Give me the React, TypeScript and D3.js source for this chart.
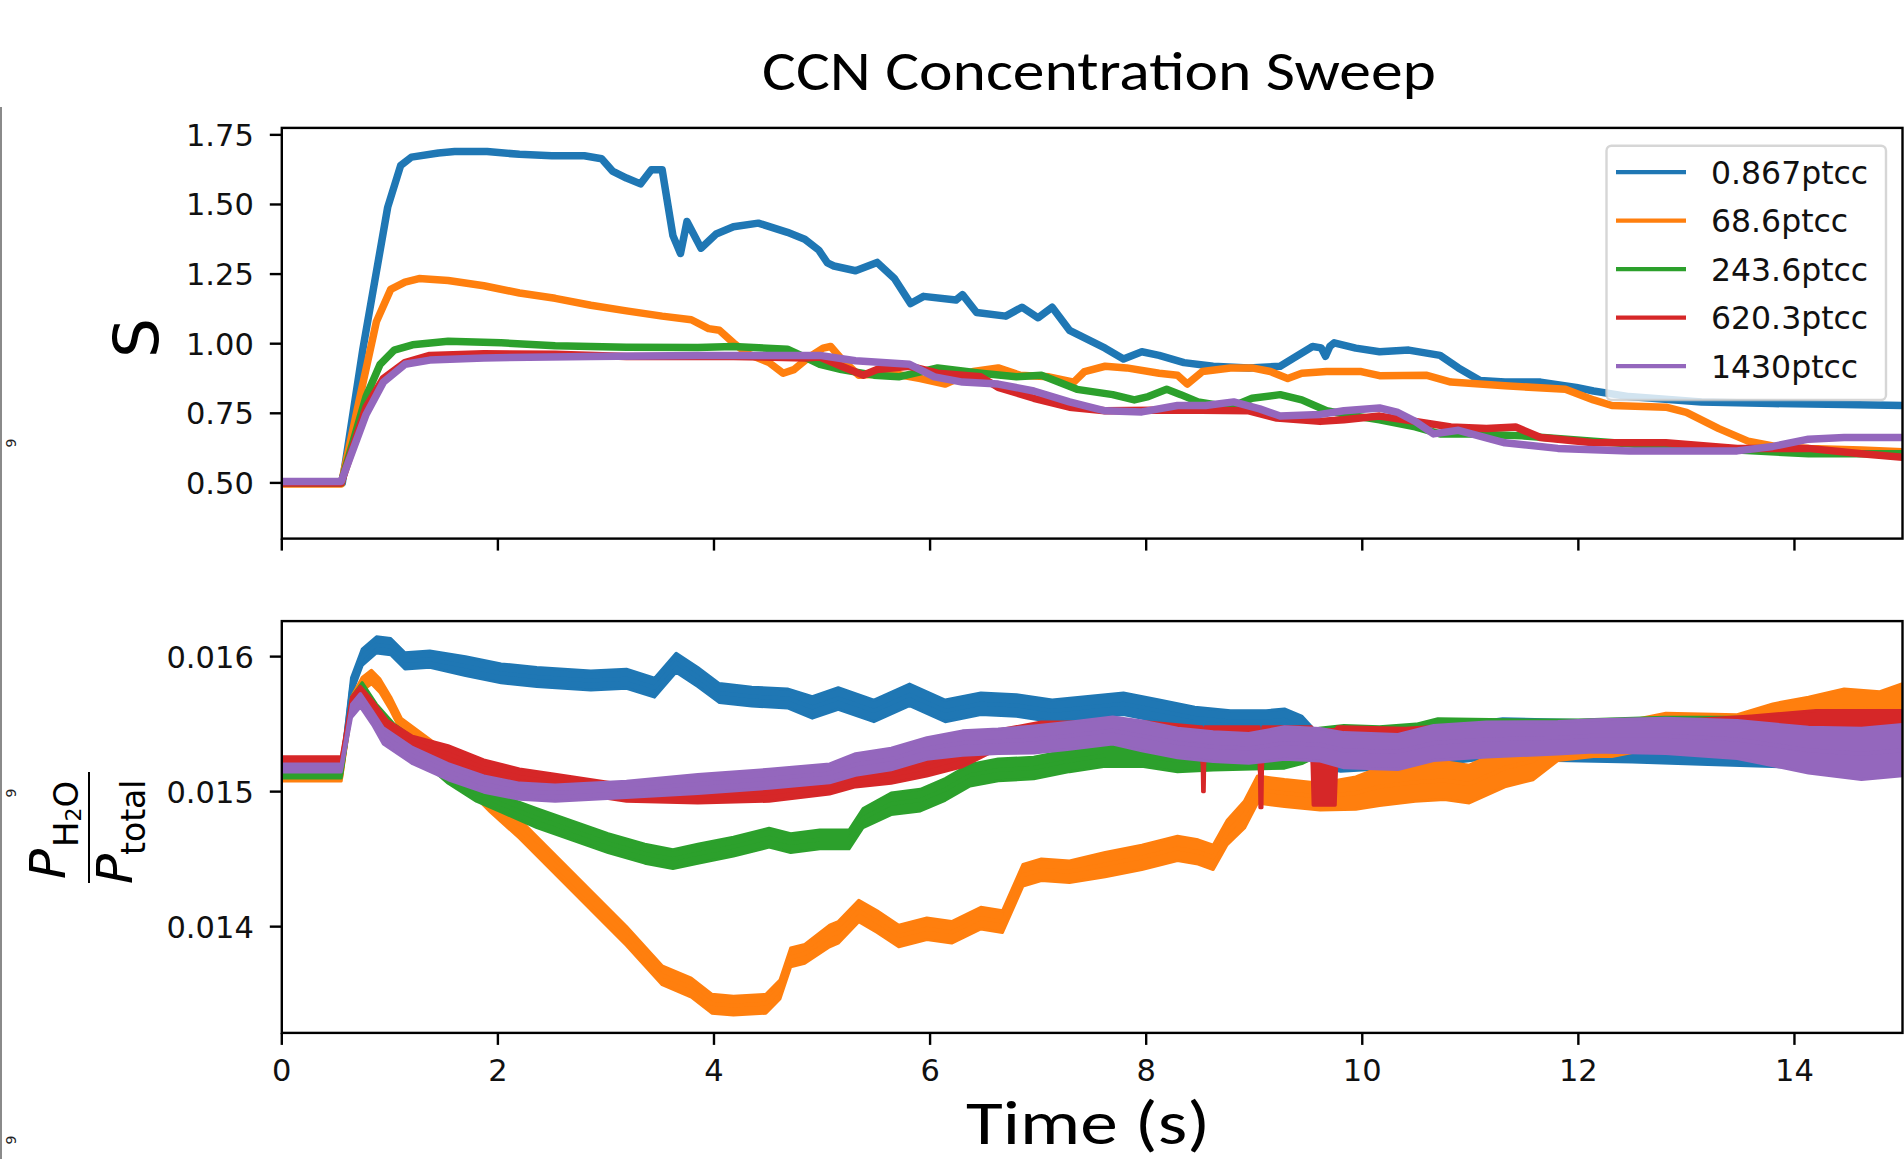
import React from "react";
import * as d3 from "d3";

// ---------- data ----------
const SERIES_NAMES = ["0.867ptcc", "68.6ptcc", "243.6ptcc", "620.3ptcc", "1430ptcc"];
const SERIES_COLORS = ["#1f77b4", "#ff7f0e", "#2ca02c", "#d62728", "#9467bd"];

const X_TICKS = [0, 2, 4, 6, 8, 10, 12, 14];
const TOP_TICKS = [0.5, 0.75, 1.0, 1.25, 1.5, 1.75];
const TOP_TICK_LABELS = ["0.50", "0.75", "1.00", "1.25", "1.50", "1.75"];
const BOT_TICKS = [0.014, 0.015, 0.016];
const BOT_TICK_LABELS = ["0.014", "0.015", "0.016"];

// Top panel: S vs time [t, S]
const blueS: [number, number][] = [[0,0.5],[0.56,0.5],[0.75,0.98],[0.98,1.49],[1.1,1.64],[1.2,1.67],[1.45,1.685],[1.6,1.69],[1.9,1.69],[2.2,1.68],[2.5,1.675],[2.8,1.675],[2.96,1.664],[3.06,1.62],[3.19,1.595],[3.32,1.574],[3.42,1.625],[3.52,1.625],[3.62,1.388],[3.69,1.324],[3.75,1.439],[3.88,1.343],[4.02,1.394],[4.18,1.42],[4.41,1.433],[4.68,1.4],[4.84,1.375],[4.97,1.336],[5.05,1.29],[5.11,1.279],[5.31,1.262],[5.51,1.292],[5.67,1.234],[5.82,1.144],[5.94,1.17],[6.24,1.157],[6.3,1.176],[6.43,1.112],[6.7,1.099],[6.85,1.131],[7.0,1.093],[7.13,1.131],[7.29,1.048],[7.49,1.009],[7.62,0.984],[7.79,0.945],[7.96,0.971],[8.12,0.958],[8.35,0.932],[8.62,0.919],[8.95,0.913],[9.24,0.919],[9.38,0.952],[9.54,0.99],[9.62,0.985],[9.66,0.955],[9.7,0.99],[9.74,1.003],[9.94,0.984],[10.16,0.971],[10.43,0.977],[10.72,0.958],[10.89,0.913],[11.09,0.868],[11.32,0.862],[11.65,0.862],[11.98,0.843],[12.14,0.83],[12.47,0.81],[13.14,0.791],[13.8,0.785],[14.46,0.782],[15.0,0.778]];
const orangeS: [number, number][] = [[0,0.496],[0.55,0.496],[0.71,0.785],[0.876,1.08],[1.008,1.195],[1.14,1.221],[1.27,1.234],[1.54,1.227],[1.87,1.208],[2.2,1.182],[2.53,1.163],[2.86,1.138],[3.19,1.118],[3.52,1.099],[3.79,1.086],[3.95,1.054],[4.05,1.048],[4.18,1.003],[4.31,0.964],[4.51,0.932],[4.64,0.894],[4.74,0.907],[4.88,0.952],[5.01,0.984],[5.08,0.99],[5.18,0.945],[5.34,0.887],[5.64,0.894],[5.91,0.875],[6.14,0.855],[6.4,0.9],[6.63,0.913],[6.83,0.887],[7.1,0.881],[7.33,0.862],[7.43,0.9],[7.62,0.919],[7.82,0.913],[8.12,0.894],[8.29,0.887],[8.38,0.855],[8.52,0.9],[8.78,0.913],[8.98,0.913],[9.15,0.9],[9.31,0.875],[9.44,0.894],[9.67,0.9],[9.99,0.9],[10.16,0.885],[10.59,0.887],[10.82,0.862],[11.32,0.849],[11.88,0.836],[12.14,0.798],[12.31,0.778],[12.81,0.772],[13.0,0.753],[13.3,0.695],[13.57,0.65],[13.8,0.633],[14.13,0.624],[14.62,0.618],[15.0,0.612]];
const greenS: [number, number][] = [[0,0.5],[0.55,0.5],[0.78,0.81],[0.91,0.926],[1.04,0.977],[1.21,0.996],[1.54,1.009],[2.03,1.003],[2.53,0.993],[3.19,0.987],[3.85,0.986],[4.18,0.99],[4.68,0.98],[4.84,0.952],[4.98,0.926],[5.18,0.907],[5.48,0.887],[5.71,0.881],[6.07,0.913],[6.47,0.894],[6.8,0.881],[7.03,0.887],[7.36,0.836],[7.69,0.817],[7.89,0.798],[8.02,0.81],[8.19,0.836],[8.32,0.817],[8.48,0.791],[8.78,0.772],[8.98,0.804],[9.24,0.817],[9.44,0.798],[9.67,0.759],[9.94,0.74],[10.16,0.727],[10.49,0.701],[10.72,0.676],[10.99,0.676],[11.48,0.669],[12.14,0.65],[12.81,0.631],[13.47,0.618],[14.13,0.605],[15.0,0.605]];
const redS: [number, number][] = [[0,0.5],[0.55,0.5],[0.78,0.772],[0.94,0.875],[1.14,0.932],[1.37,0.958],[1.87,0.964],[2.53,0.962],[3.19,0.954],[4.18,0.954],[4.84,0.949],[4.98,0.952],[5.18,0.919],[5.38,0.887],[5.51,0.907],[5.81,0.919],[6.07,0.894],[6.47,0.881],[6.63,0.843],[6.96,0.804],[7.29,0.772],[7.62,0.759],[8.29,0.762],[8.95,0.759],[9.21,0.733],[9.61,0.721],[9.83,0.727],[10.16,0.74],[10.49,0.721],[10.82,0.701],[11.15,0.695],[11.42,0.701],[11.65,0.663],[12.14,0.644],[12.81,0.644],[13.47,0.624],[14.13,0.624],[14.62,0.605],[15.0,0.592]];
const purpleS: [number, number][] = [[0,0.505],[0.55,0.505],[0.78,0.746],[0.94,0.862],[1.14,0.926],[1.37,0.941],[1.87,0.949],[2.86,0.954],[3.85,0.958],[4.98,0.958],[5.31,0.939],[5.81,0.926],[6.04,0.881],[6.3,0.862],[6.63,0.855],[6.96,0.83],[7.29,0.791],[7.62,0.759],[7.96,0.755],[8.29,0.778],[8.55,0.778],[8.81,0.791],[9.05,0.766],[9.24,0.74],[9.61,0.746],[9.83,0.759],[10.16,0.769],[10.33,0.753],[10.49,0.721],[10.66,0.676],[10.89,0.689],[11.32,0.644],[11.81,0.624],[12.47,0.615],[13.47,0.615],[13.8,0.631],[14.13,0.657],[14.46,0.663],[15.0,0.663]];

// Bottom panel: P_H2O/P_total vs time [t, value, half-width of the noise band]
const blueP: [number, number, number][] = [[0,0.01515,0.00003],[0.55,0.01515,0.00003],[0.645,0.015783,0.00006],[0.744,0.015995,0.00006],[0.876,0.016087,0.00006],[1.008,0.016074,0.00006],[1.14,0.015968,0.00006],[1.37,0.015981,0.00006],[1.7,0.015929,0.00007],[2.03,0.015876,0.00007],[2.36,0.015849,0.00007],[2.86,0.015823,0.00007],[3.19,0.015836,0.00007],[3.45,0.01577,0.00007],[3.65,0.015955,0.00007],[3.85,0.015849,0.00007],[4.05,0.01573,0.00007],[4.35,0.015704,0.00007],[4.68,0.01569,0.00007],[4.91,0.015624,0.00008],[5.15,0.01569,0.00008],[5.48,0.015598,0.00008],[5.81,0.015717,0.00008],[6.14,0.015598,0.00008],[6.47,0.015651,0.00008],[6.8,0.015638,0.00008],[7.13,0.015598,0.00008],[7.46,0.015624,0.00008],[7.79,0.015651,0.00008],[8.12,0.015598,0.00008],[8.45,0.015545,0.00008],[8.78,0.015519,0.00008],[9.11,0.015519,0.00008],[9.28,0.015532,0.00008],[9.44,0.01547,0.00009],[9.6,0.0153,0.00012],[9.8,0.01528,0.00013],[10.2,0.0153,0.00013],[10.8,0.01535,0.00014],[11.3,0.0154,0.00014],[11.8,0.01538,0.00015],[12.5,0.01537,0.00015],[13.2,0.01535,0.00015],[14.0,0.01533,0.00015],[15.0,0.0153,0.00016]];
const orangeP: [number, number, number][] = [[0,0.015108,0.00003],[0.55,0.015108,0.00003],[0.645,0.015651,0.00005],[0.744,0.015796,0.00005],[0.83,0.015849,0.00005],[0.91,0.015783,0.00005],[1.008,0.015651,0.00005],[1.107,0.015492,0.00005],[1.27,0.015386,0.00006],[1.47,0.015267,0.00006],[1.7,0.015095,0.00006],[1.93,0.01491,0.00006],[2.2,0.014725,0.00007],[2.53,0.01446,0.00007],[2.86,0.014196,0.00007],[3.19,0.013931,0.00007],[3.52,0.01364,0.00007],[3.79,0.013548,0.00007],[3.98,0.013429,0.00007],[4.18,0.013415,0.00007],[4.48,0.013429,0.00007],[4.61,0.013534,0.00007],[4.71,0.013772,0.00007],[4.84,0.013799,0.00007],[5.07,0.013931,0.00008],[5.15,0.013958,0.00008],[5.34,0.014116,0.00008],[5.51,0.014037,0.00008],[5.71,0.013931,0.00008],[5.97,0.013984,0.00008],[6.2,0.013958,0.00008],[6.47,0.014063,0.00008],[6.67,0.014037,0.00008],[6.86,0.014381,0.00008],[7.03,0.014421,0.00008],[7.29,0.014407,0.00008],[7.62,0.01446,0.00009],[7.96,0.014513,0.00009],[8.29,0.014579,0.00009],[8.48,0.014553,0.00009],[8.62,0.014513,0.00009],[8.75,0.014698,0.00009],[8.91,0.014831,0.0001],[9.03,0.015016,0.0001],[9.28,0.014989,0.0001],[9.61,0.014963,0.0001],[9.94,0.014989,0.00012],[10.16,0.015037,0.00014],[10.49,0.015069,0.00014],[10.76,0.015082,0.00014],[10.99,0.015056,0.00014],[11.32,0.015175,0.00014],[11.58,0.015228,0.00014],[11.81,0.01536,0.00013],[12.14,0.01538,0.00012],[12.31,0.01538,0.00012],[12.81,0.01546,0.00012],[13.47,0.01545,0.00012],[13.8,0.01553,0.00012],[14.13,0.01557,0.00013],[14.46,0.01563,0.00013],[14.79,0.0156,0.00014],[15.0,0.01566,0.00014]];
const greenP: [number, number, number][] = [[0,0.01513,0.00003],[0.55,0.01513,0.00003],[0.645,0.01565,0.00005],[0.744,0.015757,0.00005],[0.876,0.015598,0.00005],[1.04,0.015439,0.00006],[1.27,0.015307,0.00006],[1.54,0.015122,0.00006],[1.8,0.014989,0.00006],[2.03,0.01491,0.00006],[2.36,0.014804,0.00007],[2.69,0.014712,0.00007],[3.02,0.014619,0.00007],[3.36,0.01454,0.00007],[3.62,0.0145,0.00007],[3.85,0.01454,0.00007],[4.18,0.014593,0.00007],[4.51,0.014659,0.00007],[4.71,0.014619,0.00007],[4.98,0.014646,0.00007],[5.25,0.014646,0.00007],[5.38,0.014804,0.00007],[5.64,0.01491,0.00008],[5.91,0.014937,0.00008],[6.14,0.015016,0.00008],[6.37,0.015122,0.00008],[6.63,0.015161,0.00008],[6.96,0.015175,0.00008],[7.29,0.015228,0.00008],[7.62,0.015267,0.00008],[7.96,0.015267,0.00008],[8.29,0.015228,0.00008],[8.62,0.01524,0.00008],[9.28,0.015254,0.00008],[9.45,0.0153,0.00009],[9.6,0.01537,0.0001],[9.83,0.01539,0.0001],[10.16,0.01538,0.0001],[10.5,0.0154,0.0001],[10.7,0.01544,0.0001],[11.5,0.01543,0.0001],[12.0,0.01543,0.0001],[12.8,0.01545,0.0001],[13.5,0.01545,0.0001],[14.5,0.01543,0.0001],[15.0,0.01543,0.0001]];
const redP: [number, number, number][] = [[0,0.015228,0.00003],[0.55,0.015228,0.00003],[0.645,0.015651,0.00005],[0.727,0.01573,0.00005],[0.84,0.015624,0.00005],[0.975,0.015479,0.00005],[1.21,0.01536,0.00005],[1.54,0.01528,0.00006],[1.87,0.015175,0.00006],[2.2,0.015108,0.00006],[2.53,0.015069,0.00006],[3.19,0.014989,0.00006],[3.85,0.014976,0.00006],[4.51,0.014989,0.00006],[5.07,0.015042,0.00006],[5.31,0.015095,0.00006],[5.64,0.015122,0.00006],[5.97,0.015175,0.00006],[6.3,0.015254,0.00007],[6.63,0.015386,0.00007],[7.03,0.015445,0.00007],[7.29,0.015445,0.00007],[7.96,0.01545,0.00007],[8.5,0.01541,0.00007],[8.515,0.01541,0.00007],[8.522,0.01521,0.00021],[8.538,0.01521,0.00021],[8.545,0.01541,0.00007],[9.03,0.01541,0.00007],[9.045,0.01541,0.00007],[9.052,0.01515,0.00027],[9.072,0.01515,0.00027],[9.08,0.01541,0.00007],[9.5,0.01541,0.00007],[9.53,0.01541,0.00007],[9.545,0.01518,0.00028],[9.75,0.01518,0.00028],[9.77,0.01541,0.00007],[9.8,0.01541,0.00007],[10.4,0.0154,0.00007],[11.0,0.01542,0.00008],[12.0,0.01543,0.00008],[13.0,0.01544,0.00009],[13.6,0.01546,0.0001],[14.2,0.01548,0.00012],[15.0,0.01548,0.00012]];
const purpleP: [number, number, number][] = [[0,0.015175,0.00003],[0.55,0.015175,0.00003],[0.645,0.015598,0.00005],[0.727,0.015677,0.00005],[0.84,0.015545,0.00005],[0.94,0.015413,0.00006],[1.21,0.015267,0.00006],[1.54,0.015148,0.00006],[1.87,0.015056,0.00006],[2.2,0.015003,0.00006],[2.53,0.014989,0.00006],[3.19,0.015016,0.00006],[3.85,0.015056,0.00007],[4.51,0.015095,0.00007],[5.07,0.015135,0.00007],[5.31,0.015201,0.00008],[5.64,0.015241,0.00008],[5.97,0.01532,0.00008],[6.3,0.01536,0.00009],[6.63,0.015373,0.00009],[6.96,0.015386,0.0001],[7.29,0.015413,0.0001],[7.69,0.015452,0.0001],[7.96,0.015413,0.00011],[8.29,0.01536,0.00011],[8.62,0.015333,0.00011],[8.95,0.01532,0.00011],[9.28,0.01536,0.00012],[9.61,0.015347,0.00012],[9.83,0.015307,0.00013],[10.33,0.015294,0.00013],[10.66,0.01536,0.00013],[11.15,0.015386,0.00013],[11.81,0.015399,0.00012],[12.14,0.015413,0.00012],[12.81,0.015413,0.00013],[13.47,0.015386,0.00014],[14.13,0.015307,0.00017],[14.62,0.01528,0.00019],[15.0,0.015307,0.00019]];

const TOP_DATA = [blueS, orangeS, greenS, redS, purpleS];
const BOT_DATA = [blueP, orangeP, greenP, redP, purpleP];

// ---------- layout ----------
const W = 1904;
const H = 1159;
const AX_L = 281.8;
const AX_R = 1902.5;
const TOP_T = 127.9;
const TOP_B = 538.6;
const BOT_T = 621.1;
const BOT_B = 1032.9;
const TICK_FONT = "'DejaVu Sans', sans-serif";
const TICK_SIZE = 30.5;
const SPINE_W = 2.4;

const x = d3.scaleLinear().domain([0, 15]).range([AX_L, AX_R]);
const yTop = d3.scaleLinear().domain([0.3, 1.775]).range([TOP_B, TOP_T]);
const yBot = d3.scaleLinear().domain([0.013213, 0.016263]).range([BOT_B, BOT_T]);

const topLine = d3
  .line<[number, number]>()
  .x((d) => x(d[0]))
  .y((d) => yTop(d[1]));
const botArea = d3
  .area<[number, number, number]>()
  .x((d) => x(d[0]))
  .y0((d) => yBot(d[1] - d[2]))
  .y1((d) => yBot(d[1] + d[2]));
const botLine = d3
  .line<[number, number, number]>()
  .x((d) => x(d[0]))
  .y((d) => yBot(d[1]));

function Frame({ top, bottom }: { top: number; bottom: number }) {
  return (
    <rect
      x={AX_L}
      y={top}
      width={AX_R - AX_L}
      height={bottom - top}
      fill="none"
      stroke="#000"
      strokeWidth={SPINE_W}
    />
  );
}

export default function App() {
  const legendX = 1606.5;
  const legendY = 145.7;
  const rowGap = 48.5;
  return (
    <div style={{ position: "absolute", left: 0, top: 0, width: W, height: H, overflow: "hidden", background: "#fff" }}>
      <svg width={W} height={H} viewBox={`0 0 ${W} ${H}`} style={{ display: "block" }}>
        <defs>
          <clipPath id="clipTop">
            <rect x={AX_L} y={TOP_T} width={AX_R - AX_L} height={TOP_B - TOP_T} />
          </clipPath>
          <clipPath id="clipBot">
            <rect x={AX_L} y={BOT_T} width={AX_R - AX_L} height={BOT_B - BOT_T} />
          </clipPath>
        </defs>
        <rect x={0} y={0} width={W} height={H} fill="#fff" />

        {/* left-edge remnants of a neighbouring figure */}
        <line x1={1} y1={107} x2={1} y2={H} stroke="#8a8a8a" strokeWidth={2} />
        {[443, 793, 1140].map((yy, i) => (
          <text key={i} x={0} y={0} transform={`translate(16,${yy}) rotate(-90)`} textAnchor="middle" fontFamily={TICK_FONT} fontSize={14} fill="#222">
            9
          </text>
        ))}

        {/* title */}
        <text x={1099} y={90} textAnchor="middle" fontFamily="Carlito, Calibri, Lato, sans-serif" fontSize={55} textLength={674} lengthAdjust="spacingAndGlyphs" fill="#000">
          CCN Concentration Sweep
        </text>

        {/* ---------- top panel ---------- */}
        <g clipPath="url(#clipTop)">
          {TOP_DATA.map((d, i) => (
            <path key={i} d={topLine(d) || ""} fill="none" stroke={SERIES_COLORS[i]} strokeWidth={7.5} strokeLinejoin="round" strokeLinecap="butt" />
          ))}
        </g>
        <Frame top={TOP_T} bottom={TOP_B} />
        {TOP_TICKS.map((t, i) => (
          <g key={i}>
            <line x1={AX_L - 12} x2={AX_L} y1={yTop(t)} y2={yTop(t)} stroke="#000" strokeWidth={SPINE_W} />
            <text x={AX_L - 28} y={yTop(t) + 11} textAnchor="end" fontFamily={TICK_FONT} fontSize={TICK_SIZE} fill="#111">
              {TOP_TICK_LABELS[i]}
            </text>
          </g>
        ))}
        {X_TICKS.map((t) => (
          <line key={t} x1={x(t)} x2={x(t)} y1={TOP_B} y2={TOP_B + 12} stroke="#000" strokeWidth={SPINE_W} />
        ))}
        <text x={0} y={0} transform="translate(158,338) rotate(-90)" textAnchor="middle" fontFamily={TICK_FONT} fontSize={63} fill="#000">
          S
        </text>

        {/* legend */}
        <rect x={legendX} y={legendY} width={279.5} height={254.3} rx={5} ry={5} fill="#fff" fillOpacity={0.8} stroke="#cccccc" strokeOpacity={0.8} strokeWidth={2.4} />
        {SERIES_NAMES.map((name, i) => {
          const cy = 172.1 + i * rowGap;
          return (
            <g key={name}>
              <line x1={1616} x2={1686} y1={cy} y2={cy} stroke={SERIES_COLORS[i]} strokeWidth={4.3} />
              <text x={1711} y={cy + 11.5} fontFamily={TICK_FONT} fontSize={31.5} fill="#111">
                {name}
              </text>
            </g>
          );
        })}

        {/* ---------- bottom panel ---------- */}
        <g clipPath="url(#clipBot)">
          {BOT_DATA.map((d, i) => (
            <g key={i}>
              <path d={botArea(d) || ""} fill={SERIES_COLORS[i]} stroke={SERIES_COLORS[i]} strokeWidth={3} strokeLinejoin="round" />
              <path d={botLine(d) || ""} fill="none" stroke={SERIES_COLORS[i]} strokeWidth={4} strokeLinejoin="round" />
            </g>
          ))}
        </g>
        <Frame top={BOT_T} bottom={BOT_B} />
        {BOT_TICKS.map((t, i) => (
          <g key={i}>
            <line x1={AX_L - 12} x2={AX_L} y1={yBot(t)} y2={yBot(t)} stroke="#000" strokeWidth={SPINE_W} />
            <text x={AX_L - 28} y={yBot(t) + 11} textAnchor="end" fontFamily={TICK_FONT} fontSize={TICK_SIZE} fill="#111">
              {BOT_TICK_LABELS[i]}
            </text>
          </g>
        ))}
        {X_TICKS.map((t) => (
          <g key={t}>
            <line x1={x(t)} x2={x(t)} y1={BOT_B} y2={BOT_B + 12} stroke="#000" strokeWidth={SPINE_W} />
            <text x={x(t)} y={1081.4} textAnchor="middle" fontFamily={TICK_FONT} fontSize={TICK_SIZE} fill="#111">
              {t}
            </text>
          </g>
        ))}

        {/* y label: P_H2O / P_total */}
        <g transform="translate(89,827) rotate(-90)" fontFamily={TICK_FONT} fill="#000">
          <line x1={-56} x2={55} y1={0} y2={0} stroke="#000" strokeWidth={2} />
          <text x={-52} y={-24} fontSize={50} fontStyle="italic">P</text>
          <text x={-20} y={-11} fontSize={34}>
            H<tspan fontSize={22} dy={3}>2</tspan><tspan fontSize={34} dy={-3}>O</tspan>
          </text>
          <text x={-57} y={43} fontSize={50} fontStyle="italic">P</text>
          <text x={-28} y={56} fontSize={33}>total</text>
        </g>

        {/* x label */}
        <text x={1088} y={1144} textAnchor="middle" fontFamily="Carlito, Calibri, Lato, sans-serif" fontSize={61} textLength={244} lengthAdjust="spacingAndGlyphs" fill="#000">
          Time (s)
        </text>
      </svg>
    </div>
  );
}
